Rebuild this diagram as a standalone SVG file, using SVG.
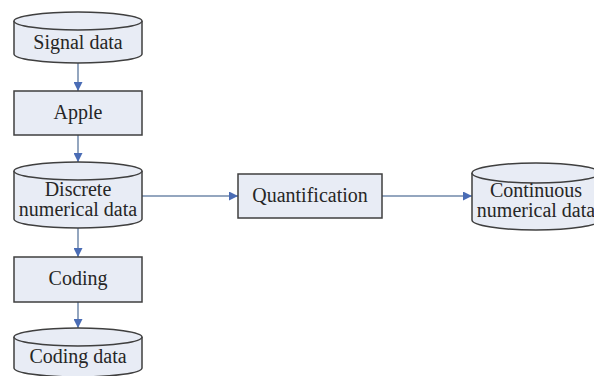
<svg xmlns="http://www.w3.org/2000/svg" width="594" height="376" viewBox="0 0 594 376">
<style>
.shape{fill:#e8ecf5;stroke:#3f3f3f;stroke-width:1.5}
.t{font-family:"Liberation Serif","Times New Roman",serif;font-size:20px;fill:#262626;text-anchor:middle}
.c{stroke:#7088aa;stroke-width:1.5;fill:none}
</style>
<defs>
<marker id="ah" viewBox="0 0 10 10" refX="10" refY="5" markerWidth="9" markerHeight="9" markerUnits="userSpaceOnUse" orient="auto">
<path d="M0,0 L10,5 L0,10 Z" fill="#4a6cb5"/>
</marker>
</defs>
<rect width="594" height="376" fill="#ffffff"/>
<g id="connectors">
<line class="c" x1="78" y1="63" x2="78" y2="91" marker-end="url(#ah)"/>
<line class="c" x1="78" y1="135" x2="78" y2="162" marker-end="url(#ah)"/>
<line class="c" x1="78" y1="228" x2="78" y2="257" marker-end="url(#ah)"/>
<line class="c" x1="78" y1="302" x2="78" y2="328" marker-end="url(#ah)"/>
<line class="c" x1="142" y1="196" x2="238" y2="196" marker-end="url(#ah)"/>
<line class="c" x1="382" y1="196" x2="472" y2="196" marker-end="url(#ah)"/>
</g>
<g id="signal-data">
<path class="shape" d="M14,21 A64,9 0 0 1 142,21 L142,54 A64,9 0 0 1 14,54 Z"/>
<path class="shape" d="M14,21 A64,9 0 0 0 142,21" fill="none"/>
<text class="t" x="78" y="49">Signal data</text>
</g>
<g id="apple">
<rect class="shape" x="14" y="91" width="128" height="44"/>
<text class="t" x="78" y="119">Apple</text>
</g>
<g id="discrete-numerical-data">
<path class="shape" d="M14,171 A64,9 0 0 1 142,171 L142,219 A64,9 0 0 1 14,219 Z"/>
<path class="shape" d="M14,171 A64,9 0 0 0 142,171" fill="none"/>
<text class="t" x="78" y="196">Discrete</text>
<text class="t" x="78" y="216">numerical data</text>
</g>
<g id="coding">
<rect class="shape" x="14" y="257" width="128" height="45"/>
<text class="t" x="78" y="285">Coding</text>
</g>
<g id="coding-data">
<path class="shape" d="M14,337 A64,9 0 0 1 142,337 L142,368 A64,9 0 0 1 14,368 Z"/>
<path class="shape" d="M14,337 A64,9 0 0 0 142,337" fill="none"/>
<text class="t" x="78" y="363">Coding data</text>
</g>
<g id="quantification">
<rect class="shape" x="238" y="174" width="144" height="44"/>
<text class="t" x="310" y="202">Quantification</text>
</g>
<g id="continuous-numerical-data">
<path class="shape" d="M472,173 A64,10 0 0 1 600,173 L600,220 A64,10 0 0 1 472,220 Z"/>
<path class="shape" d="M472,173 A64,10 0 0 0 600,173" fill="none"/>
<text class="t" x="536" y="197">Continuous</text>
<text class="t" x="536" y="217">numerical data</text>
</g>
</svg>
